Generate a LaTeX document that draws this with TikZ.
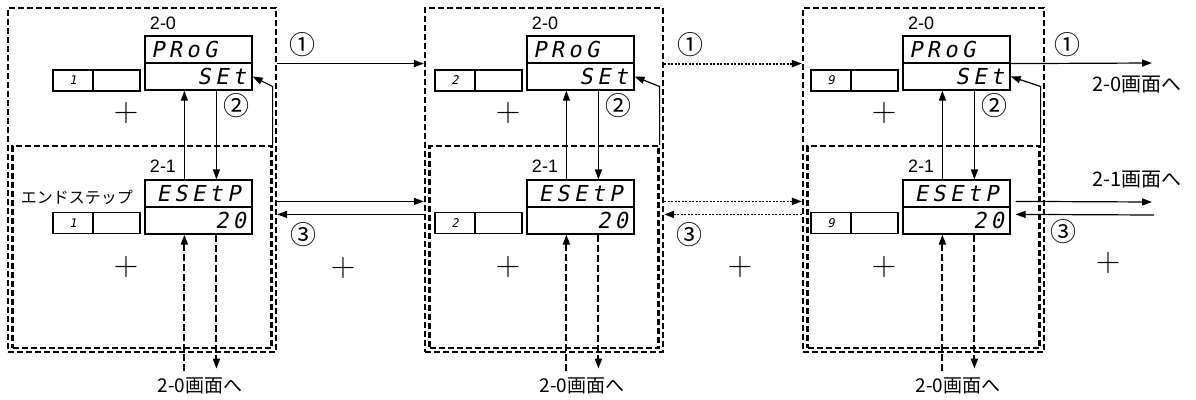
\documentclass[tikz,border=0pt]{standalone}
\usepackage{fontspec}
\setmainfont{Liberation Sans}
\newfontfamily\jp{Noto Sans CJK JP}
\newfontfamily\lmr{Latin Modern Roman}
\newfontfamily\segfont{DejaVu Sans Mono}[LetterSpace=20,FakeSlant=0.2]
\usetikzlibrary{arrows.meta,calc}
\begin{document}
\begin{tikzpicture}[x=1pt, y=-1pt, >={Triangle[length=10pt,width=7pt]}, every node/.style={inner sep=0pt}, panel/.style={draw, line width=2.2pt, dash pattern=on 6pt off 3pt}, disp/.style={draw, line width=1.2pt, minimum width=107pt, minimum height=27pt, text width=95pt, font=\segfont\fontsize{22}{22}\selectfont}, cell/.style={draw, line width=1.5pt, minimum height=21pt, font=\segfont\fontsize{12}{12}\selectfont}, tag/.style={font=\fontsize{18}{18}\selectfont}, jlbl/.style={font=\jp\fontsize{19}{19}\selectfont}, num/.style={font=\jp\fontsize{26}{26}\selectfont}, plus/.style={font=\lmr\fontsize{34}{34}\selectfont}, link/.style={->, line width=1.2pt}, dotlink/.style={->, line width=1.8pt, dash pattern=on 2pt off 1.5pt}, dashlink/.style={line width=1.9pt, dash pattern=on 7pt off 3pt}]
\useasboundingbox (0,0) rectangle (1196,399);
\foreach \n/\dig/\dl/\xl/\xr in {1/1/145/8/276, 2/2/527/425/663, 3/9/903/803/1044}{
  \pgfmathsetmacro\ww{\xr-\xl}
  \pgfmathsetmacro\wi{\ww-9}
  \node[panel, minimum width=\ww pt, minimum height=344pt] (out\n) at ({(\xl+\xr)/2},180) {};
  \node[panel, minimum width=\wi pt, minimum height=202pt] (in\n) at ({(\xl+\xr)/2},247) {};
  \node[disp, align=left] (prog\n) at (\dl+53.5,49.5) {PRoG};
  \node[disp, align=right] (set\n) at (\dl+53.5,76.5) {SEt};
  \node[disp, align=center] (esetp\n) at (\dl+53.5,193.5) {ESEtP};
  \node[disp, align=right] (val\n) at (\dl+53.5,220.5) {20};
  \node[cell, minimum width=40pt] (cnt\n) at (\dl-72,80.5) {\dig};
  \node[cell, minimum width=47pt] (blk\n) at (\dl-28.5,80.5) {};
  \node[cell, minimum width=40pt] (cntb\n) at (\dl-72,223) {\dig};
  \node[cell, minimum width=47pt] (blkb\n) at (\dl-28.5,223) {};
  \node[tag] (ta\n) at (\dl+18,23) {2-0};
  \node[tag] (tb\n) at (\dl+18,166) {2-1};
  \node[num] (two\n) at (\dl+91,106) {②};
  \node[plus] (pa\n) at (\dl-19,113) {+};
  \node[plus] (pb\n) at (\dl-19,267) {+};
  \node[jlbl] (back\n) at (\dl+55,386) {2-0画面へ};
  \draw[link] ([xshift=40pt]esetp\n.north west) -- ([xshift=40pt]set\n.south west);
  \draw[link] ([xshift=72pt]set\n.south west) -- ([xshift=72pt]esetp\n.north west);
  \draw[link] (in\n.north east) -- ($(in\n.north east |- set\n.east)+(0,10)$) -- (set\n.east);
  \draw[dashlink, ->] ([xshift=72pt]val\n.south west) -- ($(val\n.south west |- back\n.north)+(72,-9)$);
  \draw[dashlink, <-] ([xshift=40pt]val\n.south west) -- ($(val\n.south west |- back\n.north)+(40,-7)$);
}
\node[font=\jp\fontsize{16}{16}\selectfont, anchor=east] (endstep) at (133,197) {エンドステップ};
% panel to panel
\draw[link] (out1.east |- prog1.south) -- (out2.west |- prog1.south);
\draw[dotlink] (out2.east |- prog2.south) -- (out3.west |- prog2.south);
\draw[link] ($(out1.east |- val1.north)+(0,-5)$) -- ($(out2.west |- val1.north)+(0,-5)$);
\draw[link] ($(out2.west |- val1.north)+(0,8)$) -- ($(out1.east |- val1.north)+(0,8)$);
\draw[dotlink] ($(out2.east |- val2.north)+(0,-5)$) -- ($(out3.west |- val2.north)+(0,-5)$);
\draw[dotlink] ($(out3.west |- val2.north)+(0,8)$) -- ($(out2.east |- val2.north)+(0,8)$);
% exits of the last panel
\coordinate (exa) at (1152,63);
\coordinate (exb) at (1152,202);
\coordinate (exc) at (1154,215);
\draw[link] (prog3.south east) -- (exa);
\draw[link] ($(val3.north east)+(5,-5)$) -- (exb);
\draw[link] (exc) -- ($(val3.north east)+(5,8)$);
\node[jlbl, font=\jp\fontsize{20}{20}\selectfont] (to20) at (1137,85) {2-0画面へ};
\node[jlbl, font=\jp\fontsize{20}{20}\selectfont] (to21) at (1137,180) {2-1画面へ};
% step marks
\node[num] (c1a) at (302,45) {①};
\node[num] (c1b) at (690,45) {①};
\node[num] (c1c) at (1067,45) {①};
\node[num] (c3a) at (303,235) {③};
\node[num] (c3b) at (689,235) {③};
\node[num] (c3c) at (1063,232) {③};
\node[plus] (pab) at (343,268) {+};
\node[plus] (pbc) at (740,267) {+};
\node[plus] (pcx) at (1108,263) {+};
\end{tikzpicture}
\end{document}
